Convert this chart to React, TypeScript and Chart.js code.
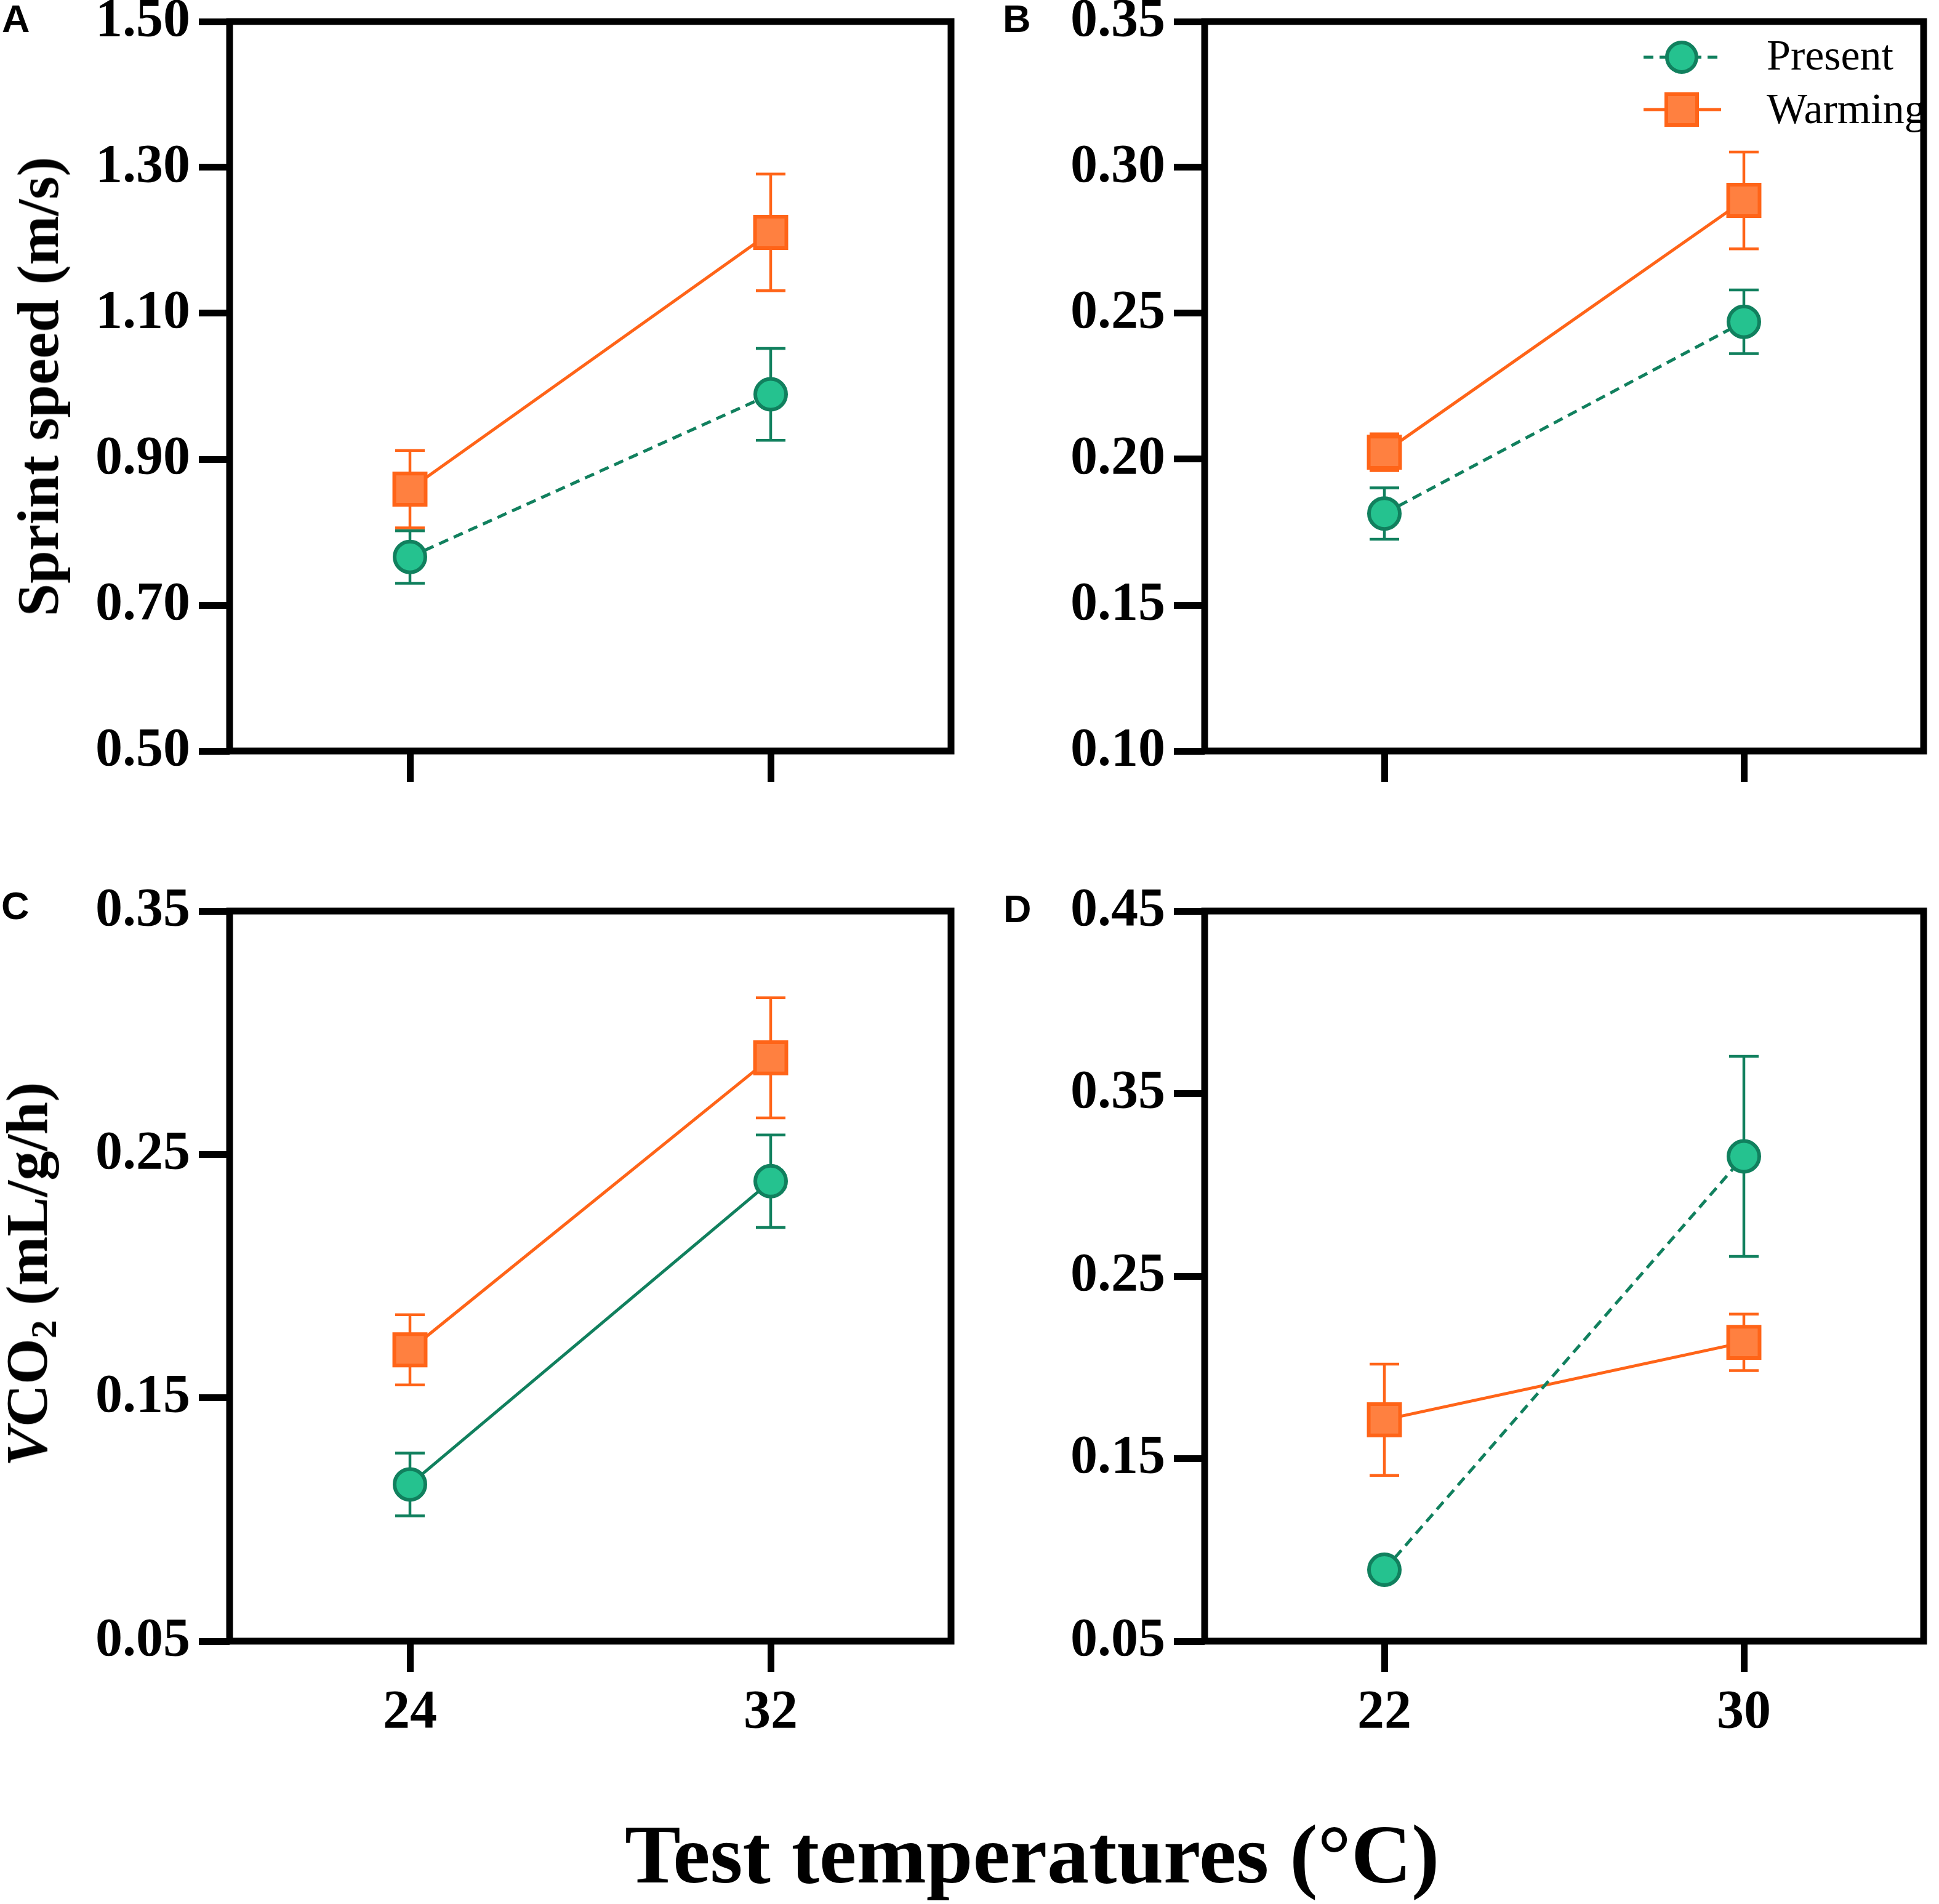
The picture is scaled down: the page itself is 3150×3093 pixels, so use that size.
import { useEffect, useRef } from "react";
import Chart from "chart.js/auto";

// test temperatures (°C)
const tempsAC = [24, 32];
const tempsBD = [22, 30];

// y tick labels
const ticksA = [0.5, 0.7, 0.9, 1.1, 1.3, 1.5];
const ticksB = [0.1, 0.15, 0.2, 0.25, 0.3, 0.35];
const ticksC = [0.05, 0.15, 0.25, 0.35];
const ticksD = [0.05, 0.15, 0.25, 0.35, 0.45];

// A - sprint speed (m/s)
const presentA = [0.766, 0.989];
const presentErrA = [0.036, 0.063];
const warmingA = [0.859, 1.211];
const warmingErrA = [0.053, 0.08];

// B
const presentB = [0.1814, 0.2471];
const presentErrB = [0.0088, 0.0109];
const warmingB = [0.2024, 0.2887];
const warmingErrB = [0.0063, 0.0166];

// C - VCO2 (mL/g/h)
const presentC = [0.1144, 0.239];
const presentErrC = [0.0129, 0.019];
const warmingC = [0.1697, 0.2897];
const warmingErrC = [0.0144, 0.0247];

// D
const presentD = [0.0891, 0.3156];
const presentErrD = [0.003, 0.0548];
const warmingD = [0.1713, 0.2137];
const warmingErrD = [0.0305, 0.0155];

const GREEN_FILL = "#25C28F";
const GREEN_LINE = "#11805E";
const ORANGE_FILL = "#FF8040";
const ORANGE_LINE = "#FF6418";
const DASH = [16, 10];
const SERIF = "'Liberation Serif', 'Times New Roman', serif";
const SANS = "'Liberation Sans', Arial, sans-serif";

const AXIS_W = 330;
const PAD_TOP = 90;
const PAD_RIGHT = 30;

const framePlugin = {
    id: "frame",
    beforeDatasetsDraw(chart: any) {
        const { ctx, chartArea: a } = chart;
        ctx.save();
        ctx.strokeStyle = "#000";
        ctx.lineWidth = 11;
        ctx.strokeRect(a.left, a.top, a.right - a.left, a.bottom - a.top);
        ctx.restore();
    }
};

const errorBarPlugin = {
    id: "errorBars",
    beforeDatasetsDraw(chart: any) {
        const { ctx } = chart;
        const xs = chart.scales.x;
        const ys = chart.scales.y;
        chart.data.datasets.forEach((ds: any) => {
            ctx.save();
            ctx.strokeStyle = ds.borderColor;
            ctx.lineWidth = 4.5;
            ds.data.forEach((p: any, i: number) => {
                const e = ds.errors[i];
                const x = xs.getPixelForValue(p.x);
                const y1 = ys.getPixelForValue(p.y + e);
                const y2 = ys.getPixelForValue(p.y - e);
                ctx.beginPath();
                ctx.moveTo(x, y1);
                ctx.lineTo(x, y2);
                ctx.moveTo(x - 24, y1);
                ctx.lineTo(x + 24, y1);
                ctx.moveTo(x - 24, y2);
                ctx.lineTo(x + 24, y2);
                ctx.stroke();
            });
            ctx.restore();
        });
    }
};

const legendPlugin = {
    id: "insideLegend",
    afterDatasetsDraw(chart: any) {
        const { ctx, chartArea } = chart;
        const x0 = chartArea.left;
        const y0 = chartArea.top;
        const rows = [
            { y: 58, base: 78 },
            { y: 143, base: 165 }
        ];
        chart.data.datasets.forEach((ds: any, i: number) => {
            const y = y0 + rows[i].y;
            const cx = x0 + 775;
            ctx.save();
            ctx.strokeStyle = ds.borderColor;
            ctx.lineWidth = 5;
            ctx.setLineDash(i === 0 ? DASH : []);
            ctx.beginPath();
            ctx.moveTo(x0 + 713, y);
            ctx.lineTo(x0 + 839, y);
            ctx.stroke();
            ctx.setLineDash([]);
            ctx.lineWidth = 6;
            ctx.fillStyle = ds.pointBackgroundColor;
            ctx.strokeStyle = ds.pointBorderColor;
            ctx.beginPath();
            if (ds.pointStyle === "circle") {
                ctx.arc(cx, y, 24, 0, Math.PI * 2);
            } else {
                ctx.rect(cx - 25, y - 25, 50, 50);
            }
            ctx.fill();
            ctx.stroke();
            ctx.fillStyle = "#000";
            ctx.font = `70px ${SERIF}`;
            ctx.textAlign = "left";
            ctx.textBaseline = "alphabetic";
            ctx.fillText(ds.label, x0 + 913, y0 + rows[i].base);
            ctx.restore();
        });
    }
};

interface PanelProps {
    left: number;
    top: number;
    width: number;
    height: number;
    temps: number[];
    xMin: number;
    xMax: number;
    yTicks: number[];
    present: number[];
    presentErr: number[];
    warming: number[];
    warmingErr: number[];
    presentDashed: boolean;
    showXLabels: boolean;
    showLegend: boolean;
}

function Panel(props: PanelProps) {
    const canvasRef = useRef<HTMLCanvasElement | null>(null);
    const chartRef = useRef<Chart | null>(null);
    const xAxisH = props.showXLabels ? 200 : 80;

    useEffect(() => {
        if (!canvasRef.current) return;
        if (chartRef.current) chartRef.current.destroy();

        const tickFont = { family: SERIF, weight: "bold" as const, size: 88 };
        const plugins: any[] = [framePlugin, errorBarPlugin];
        if (props.showLegend) plugins.push(legendPlugin);

        chartRef.current = new Chart(canvasRef.current, {
            type: "line",
            data: {
                datasets: [
                    {
                        label: "Present",
                        data: props.temps.map((t, i) => ({ x: t, y: props.present[i] })),
                        errors: props.presentErr,
                        borderColor: GREEN_LINE,
                        backgroundColor: GREEN_FILL,
                        borderWidth: 5,
                        borderDash: props.presentDashed ? DASH : [],
                        pointStyle: "circle",
                        pointRadius: 25,
                        pointBorderWidth: 6,
                        pointBackgroundColor: GREEN_FILL,
                        pointBorderColor: GREEN_LINE,
                        fill: false,
                        tension: 0
                    } as any,
                    {
                        label: "Warming",
                        data: props.temps.map((t, i) => ({ x: t, y: props.warming[i] })),
                        errors: props.warmingErr,
                        borderColor: ORANGE_LINE,
                        backgroundColor: ORANGE_FILL,
                        borderWidth: 5,
                        pointStyle: "rect",
                        pointRadius: 36,
                        pointBorderWidth: 6,
                        pointBackgroundColor: ORANGE_FILL,
                        pointBorderColor: ORANGE_LINE,
                        fill: false,
                        tension: 0
                    } as any
                ]
            },
            options: {
                responsive: true,
                maintainAspectRatio: false,
                animation: false,
                events: [],
                layout: { padding: { top: PAD_TOP, right: PAD_RIGHT, left: 0, bottom: 0 } },
                plugins: {
                    legend: { display: false },
                    tooltip: { enabled: false }
                },
                scales: {
                    x: {
                        type: "linear",
                        min: props.xMin,
                        max: props.xMax,
                        afterBuildTicks: (axis: any) => {
                            axis.ticks = props.temps.map((v) => ({ value: v }));
                        },
                        afterFit: (axis: any) => {
                            axis.height = xAxisH;
                        },
                        border: { display: false },
                        grid: {
                            drawOnChartArea: false,
                            drawTicks: true,
                            tickLength: 50,
                            tickWidth: 11,
                            lineWidth: 11,
                            color: "#000",
                            tickColor: "#000"
                        },
                        ticks: {
                            display: props.showXLabels,
                            padding: 14,
                            color: "#000",
                            font: tickFont,
                            maxRotation: 0,
                            callback: (v: any) => String(v)
                        }
                    },
                    y: {
                        type: "linear",
                        min: props.yTicks[0],
                        max: props.yTicks[props.yTicks.length - 1],
                        afterBuildTicks: (axis: any) => {
                            axis.ticks = props.yTicks.map((v) => ({ value: v }));
                        },
                        afterFit: (axis: any) => {
                            axis.width = AXIS_W;
                        },
                        border: { display: false },
                        grid: {
                            drawOnChartArea: false,
                            drawTicks: true,
                            tickLength: 50,
                            tickWidth: 11,
                            lineWidth: 11,
                            color: "#000",
                            tickColor: "#000"
                        },
                        ticks: {
                            padding: 14,
                            color: "#000",
                            font: tickFont,
                            callback: (v: any) => Number(v).toFixed(2)
                        }
                    }
                }
            } as any,
            plugins
        });

        return () => {
            if (chartRef.current) chartRef.current.destroy();
            chartRef.current = null;
        };
    }, []);

    return (
        <div
            style={{
                position: "absolute",
                left: props.left - AXIS_W,
                top: props.top - PAD_TOP,
                width: AXIS_W + props.width + PAD_RIGHT,
                height: PAD_TOP + props.height + xAxisH
            }}
        >
            <canvas ref={canvasRef} />
        </div>
    );
}

function Letter({ text, left, top }: { text: string; left: number; top: number }) {
    return (
        <div
            style={{
                position: "absolute",
                left,
                top,
                fontFamily: SANS,
                fontWeight: "bold",
                fontSize: 63,
                lineHeight: 1
            }}
        >
            {text}
        </div>
    );
}

export default function App() {
    const rotated = {
        position: "absolute" as const,
        transform: "translate(-50%, -50%) rotate(-90deg)",
        whiteSpace: "nowrap" as const,
        fontFamily: SERIF,
        fontWeight: "bold",
        fontSize: 96,
        lineHeight: 1
    };

    return (
        <div
            style={{
                position: "absolute",
                left: 0,
                top: 0,
                width: 3150,
                height: 3093,
                background: "#fff",
                overflow: "hidden"
            }}
        >
            <Panel
                left={373} top={35} width={1184} height={1185}
                temps={tempsAC} xMin={20} xMax={36} yTicks={ticksA}
                present={presentA} presentErr={presentErrA}
                warming={warmingA} warmingErr={warmingErrA}
                presentDashed={true} showXLabels={false} showLegend={false}
            />
            <Panel
                left={1957} top={35} width={1180} height={1185}
                temps={tempsBD} xMin={18} xMax={34} yTicks={ticksB}
                present={presentB} presentErr={presentErrB}
                warming={warmingB} warmingErr={warmingErrB}
                presentDashed={true} showXLabels={false} showLegend={true}
            />
            <Panel
                left={373} top={1480} width={1184} height={1186}
                temps={tempsAC} xMin={20} xMax={36} yTicks={ticksC}
                present={presentC} presentErr={presentErrC}
                warming={warmingC} warmingErr={warmingErrC}
                presentDashed={false} showXLabels={true} showLegend={false}
            />
            <Panel
                left={1957} top={1480} width={1180} height={1186}
                temps={tempsBD} xMin={18} xMax={34} yTicks={ticksD}
                present={presentD} presentErr={presentErrD}
                warming={warmingD} warmingErr={warmingErrD}
                presentDashed={true} showXLabels={true} showLegend={false}
            />

            <Letter text="A" left={3} top={-1} />
            <Letter text="B" left={1629} top={-1} />
            <Letter text="C" left={2} top={1440} />
            <Letter text="D" left={1630} top={1445} />

            <div style={{ ...rotated, left: 62, top: 628 }}>Sprint speed (m/s)</div>
            <div style={{ ...rotated, left: 44, top: 2070 }}>
                <i>V</i>CO
                <sub style={{ fontSize: "0.62em", verticalAlign: "-0.25em", lineHeight: 0 }}>2</sub>
                {" (mL/g/h)"}
            </div>

            <div
                style={{
                    position: "absolute",
                    left: 1015,
                    top: 2944,
                    whiteSpace: "nowrap",
                    fontFamily: SERIF,
                    fontWeight: "bold",
                    fontSize: 136,
                    lineHeight: 1
                }}
            >
                Test temperatures (°C)
            </div>
        </div>
    );
}
